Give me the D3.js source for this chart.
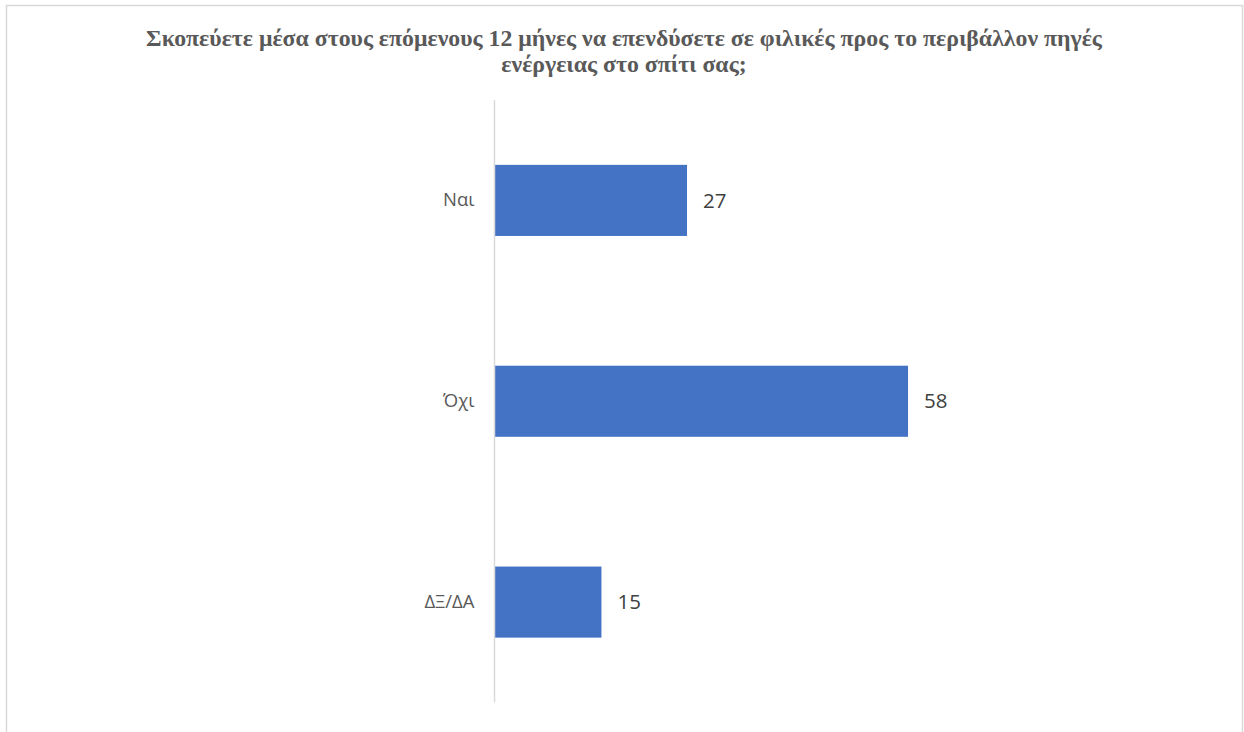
<!DOCTYPE html>
<html>
<head>
<meta charset="utf-8">
<script src="https://cdn.jsdelivr.net/npm/d3@7"></script>
<style>
  html, body { margin: 0; padding: 0; background: #fff; }
  svg { display: block; }
</style>
</head>
<body>
<svg id="chart" width="1244" height="732"></svg>
<script>
// Survey answers and their percentages
const categories = ["Ναι", "Όχι", "ΔΞ/ΔΑ"];
const values = [27, 58, 15];
const titleLines = [
  "Σκοπεύετε μέσα στους επόμενους 12 μήνες να επενδύσετε σε φιλικές προς το περιβάλλον πηγές",
  "ενέργειας στο σπίτι σας;"
];

const svg = d3.select("#chart");

// Outer chart frame
svg.append("rect")
  .attr("x", 6.5).attr("y", 5.5)
  .attr("width", 1236).attr("height", 740)
  .attr("fill", "#fff")
  .attr("stroke", "#d9d9d9")
  .attr("stroke-width", 1.5);

// Title
const title = svg.append("text")
  .attr("text-anchor", "middle")
  .attr("font-family", "'Liberation Serif', 'Times New Roman', serif")
  .attr("font-weight", "bold")
  .attr("font-size", 23.8)
  .attr("fill", "#595959");
titleLines.forEach((line, i) => {
  title.append("tspan")
    .attr("x", 624)
    .attr("y", 46 + i * 25.5)
    .text(line);
});

// Plot area
const plot = { left: 494.5, top: 100, bottom: 702.5 };

const x = d3.scaleLinear()
  .domain([0, 100])
  .range([plot.left, plot.left + 713]);

const y = d3.scaleBand()
  .domain(categories)
  .range([plot.top, plot.bottom])
  .paddingInner(0.646)
  .paddingOuter(0.323);

const data = categories.map((c, i) => ({ cat: c, val: values[i] }));

// Bars
svg.append("g")
  .selectAll("rect")
  .data(data)
  .join("rect")
  .attr("x", x(0))
  .attr("y", d => y(d.cat))
  .attr("width", d => x(d.val) - x(0))
  .attr("height", y.bandwidth())
  .attr("fill", "#4472c4");

// Category axis
const yAxis = svg.append("g")
  .attr("transform", `translate(${plot.left},0)`)
  .call(d3.axisLeft(y).tickSize(0).tickPadding(20));
yAxis.select(".domain")
  .attr("stroke", "#d9d9d9")
  .attr("stroke-width", 1.5)
  .attr("d", `M0,${plot.top}V${plot.bottom}`);
yAxis.selectAll(".tick text")
  .attr("font-family", "'Open Sans', 'Noto Sans', sans-serif")
  .attr("font-size", 18.5)
  .attr("fill", "#595959");

// Value labels
svg.append("g")
  .selectAll("text")
  .data(data)
  .join("text")
  .attr("x", d => x(d.val) + 16)
  .attr("y", d => y(d.cat) + y.bandwidth() / 2)
  .attr("dy", "0.35em")
  .attr("font-family", "'Open Sans', 'Noto Sans', sans-serif")
  .attr("font-size", 20.5)
  .attr("fill", "#404040")
  .text(d => d.val);
</script>
</body>
</html>
